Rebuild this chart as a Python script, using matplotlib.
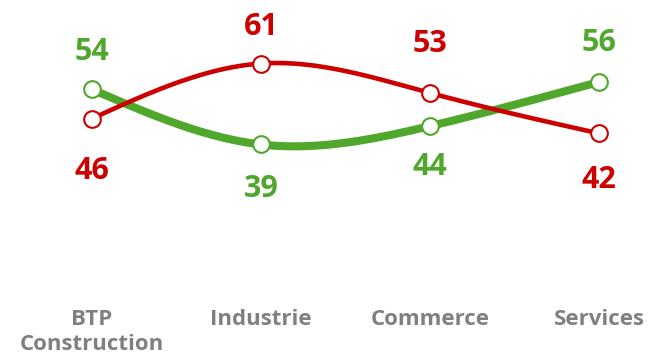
import numpy as np
import matplotlib.pyplot as plt

# données
categories = ['BTP\nConstruction', 'Industrie', 'Commerce', 'Services']
vert = [54, 39, 44, 56]
rouge = [46, 61, 53, 42]

c_vert = '#4fa82b'
c_rouge = '#cc0000'
c_gris = '#808080'

plt.rcParams['font.family'] = ['Open Sans', 'DejaVu Sans']


def spline(x, y, n=200):
    # spline cubique naturelle
    x = np.asarray(x, float)
    y = np.asarray(y, float)
    k = len(x)
    h = np.diff(x)
    A = np.zeros((k, k))
    b = np.zeros(k)
    A[0, 0] = A[-1, -1] = 1
    for i in range(1, k - 1):
        A[i, i - 1] = h[i - 1]
        A[i, i] = 2 * (h[i - 1] + h[i])
        A[i, i + 1] = h[i]
        b[i] = 6 * ((y[i + 1] - y[i]) / h[i] - (y[i] - y[i - 1]) / h[i - 1])
    M = np.linalg.solve(A, b)
    xs = np.linspace(x[0], x[-1], n)
    ys = np.empty_like(xs)
    for j, t in enumerate(xs):
        i = min(np.searchsorted(x, t, side='right') - 1, k - 2)
        a = x[i + 1] - t
        c = t - x[i]
        ys[j] = (M[i] * a ** 3 + M[i + 1] * c ** 3) / (6 * h[i]) \
            + (y[i] / h[i] - M[i] * h[i] / 6) * a \
            + (y[i + 1] / h[i] - M[i + 1] * h[i] / 6) * c
    return xs, ys


x = np.arange(len(categories))

fig = plt.figure(figsize=(6.48, 3.57), dpi=100)
ax = fig.add_axes([0, 0, 1, 1])
ax.set_xlim(-0.542, 3.288)
ax.set_ylim(-18.75, 78.26)
ax.axis('off')

xs, ys = spline(x, vert)
ax.plot(xs, ys, color=c_vert, lw=5.8, solid_capstyle='butt', zorder=2)
xs, ys = spline(x, rouge)
ax.plot(xs, ys, color=c_rouge, lw=3.3, solid_capstyle='butt', zorder=3)

ax.plot(x, vert, 'o', ms=12, mfc='white', mec=c_vert, mew=1.5, zorder=4)
ax.plot(x, rouge, 'o', ms=12, mfc='white', mec=c_rouge, mew=1.5, zorder=5)

# étiquettes des valeurs (décalage en points)
off_vert = [27, -32.4, -29.5, 28]
off_rouge = [-37.4, 26.6, 35.3, -33.3]
for i in range(len(x)):
    ax.annotate(str(vert[i]), (x[i], vert[i]), xytext=(0, off_vert[i]),
                textcoords='offset points', ha='center', va='center',
                fontsize=22, fontweight='bold', color=c_vert)
    ax.annotate(str(rouge[i]), (x[i], rouge[i]), xytext=(0, off_rouge[i]),
                textcoords='offset points', ha='center', va='center',
                fontsize=22, fontweight='bold', color=c_rouge)

for i, lab in enumerate(categories):
    ax.text(x[i], -5.6, lab, ha='center', va='top', fontsize=16,
            fontweight='bold', color=c_gris, linespacing=1.25)

fig.savefig('out.png', dpi=100)
